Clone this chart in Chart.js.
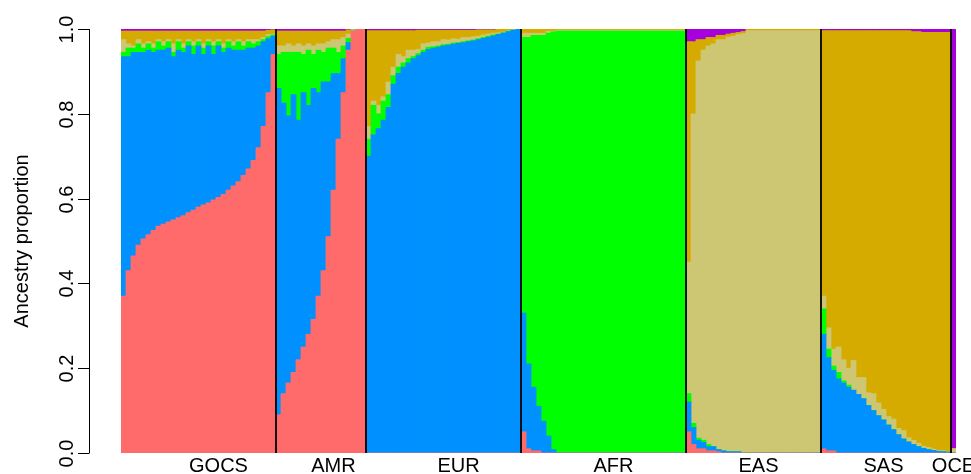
<!DOCTYPE html>
<html>
<head>
<meta charset="utf-8">
<script src="https://cdn.jsdelivr.net/npm/chart.js@4.4.1/dist/chart.umd.min.js"></script>
<style>
  html, body { margin: 0; padding: 0; background: #ffffff; }
  #wrap { width: 971px; height: 474px; }
</style>
</head>
<body>
<div id="wrap"><canvas id="c" width="971" height="474"></canvas></div>
<script>
// ---- data (each bar = a block of individuals) ----
const groups = ['GOCS', 'AMR', 'EUR', 'AFR', 'EAS', 'SAS', 'OCE'];
const groupSizes = [31, 18, 31, 33, 27, 26, 1];
const componentNames = ['K1', 'K2', 'K3', 'K4', 'K5', 'K6'];
const yTicks = [0, 0.2, 0.4, 0.6, 0.8, 1.0];
const yTickLabels = ['0.0', '0.2', '0.4', '0.6', '0.8', '1.0'];
const yTitle = 'Ancestry proportion';

const red = [
  /* GOCS */ .37,.43,.465,.49,.505,.515,.525,.535,.54,.545, .55,.555,.56,.567,.573,.58,.585,.59,.597,.603, .61,.62,.63,.64,.655,.67,.69,.72,.77,.85, .94,
  /* AMR  */ .09,.14,.165,.19,.22,.25,.28,.315,.37,.43, .51,.62,.74,.85,.95,.995,1,1,
  /* EUR  */ 0,0,0,0,0,0,0,0,0,0, 0,0,0,0,0,0,0,0,0,0, 0,0,0,0,0,0,0,0,0,0, 0,
  /* AFR  */ .05,.01,.005,.005,0,0,0,0,0,0, 0,0,0,0,0,0,0,0,0,0, 0,0,0,0,0,0,0,0,0,0, 0,0,0,
  /* EAS  */ .05,.02,.01,.01,.005,.005,.003,0,0,0, 0,0,0,0,0,0,0,0,0,0, 0,0,0,0,0,0,0,
  /* SAS  */ .01,.005,.005,0,0,0,0,0,0,0, 0,0,0,0,0,0,0,0,0,0, 0,0,0,0,0,0,
  /* OCE  */ 0
];
const blue = [
  /* GOCS */ .565,.505,.48,.455,.44,.435,.42,.415,.41,.41, .385,.395,.385,.393,.367,.38,.355,.37,.343,.357, .335,.335,.32,.31,.295,.285,.265,.24,.20,.127, .043,
  /* AMR  */ .77,.685,.63,.655,.565,.60,.54,.545,.48,.445, .365,.275,.155,.08,.018,0,0,0,
  /* EUR  */ .70,.75,.765,.785,.815,.87,.895,.91,.92,.93, .937,.945,.952,.955,.957,.96,.962,.964,.966,.968, .97,.972,.975,.978,.981,.984,.987,.99,.994,.997, 1,
  /* AFR  */ .28,.20,.15,.105,.075,.04,.008,0,0,0, 0,0,0,0,0,0,0,0,0,0, 0,0,0,0,0,0,0,0,0,0, 0,0,0,
  /* EAS  */ .07,.04,.02,.015,.01,.01,.005,.005,.003,.003, .003,0,0,0,0,0,0,0,0,0, 0,0,0,0,0,0,0,
  /* SAS  */ .27,.22,.19,.175,.165,.155,.148,.138,.128,.112, .10,.088,.078,.066,.055,.043,.033,.026,.02,.015, .011,.008,.006,.004,.003,.002,
  /* OCE  */ 0
];
const green = [
  /* GOCS */ .01,.02,.01,.02,.01,.015,.01,.02,.01,.015, .01,.02,.01,.01,.02,.01,.015,.01,.02,.01, .01,.015,.01,.02,.01,.015,.01,.01,.005,.005, .003,
  /* AMR  */ .08,.12,.15,.10,.16,.09,.13,.08,.10,.07, .08,.06,.05,.03,.01,0,0,0,
  /* EUR  */ .04,.07,.035,.045,.03,.02,.015,.01,.01,.005, .005,.005,.005,.003,.003,.003,.002,.003,.002,.002, .002,.002,.002,.002,.002,.002,.001,.001,.001,0, 0,
  /* AFR  */ .65,.77,.83,.875,.91,.95,.985,.995,.995,.995, .995,.995,.995,.995,.995,.995,.995,.995,.995,.995, .995,.995,.995,.995,.995,.995,.995,.995,.995,.995, .995,.995,.995,
  /* EAS  */ .02,.01,.005,.005,.005,0,0,0,0,0, 0,0,0,0,0,0,0,0,0,0, 0,0,0,0,0,0,0,
  /* SAS  */ .06,.02,.01,.015,.005,.005,0,0,0,0, 0,0,0,0,0,0,0,0,0,0, 0,0,0,0,0,0,
  /* OCE  */ 0
];
const khaki = [
  /* GOCS */ .03,.01,.005,.01,.01,.005,.01,.005,.01,.005, .02,.005,.01,.005,.01,.005,.01,.005,.01,.005, .01,.005,.01,.005,.01,.005,.01,.005,.005,.005, .002,
  /* AMR  */ .02,.015,.02,.015,.02,.02,.015,.02,.015,.02, .015,.02,.03,.02,.01,.003,0,0,
  /* EUR  */ .03,.01,.02,.01,.03,.02,.03,.015,.02,.015, .01,.015,.01,.012,.01,.012,.01,.01,.008,.01, .008,.008,.006,.006,.005,.004,.003,.002,.001,.001, 0,
  /* AFR  */ .01,.01,.005,.005,.005,.005,.002,.002,.002,.002, .002,.002,.002,.002,.002,.002,.002,.002,.002,.002, .002,.002,.002,.002,.002,.002,.002,.002,.002,.002, .002,.002,.002,
  /* EAS  */ .31,.73,.89,.92,.94,.95,.967,.97,.978,.98, .984,.989,.996,.996,.996,.996,.996,.996,.996,.996, .996,.996,.996,.996,.996,.996,.996,
  /* SAS  */ .03,.05,.04,.06,.05,.04,.07,.04,.05,.03, .04,.03,.025,.02,.025,.015,.02,.01,.01,.008, .005,.005,.003,.002,.002,.001,
  /* OCE  */ .01
];
const gold = [
  /* GOCS */ .02,.03,.035,.02,.03,.025,.03,.02,.025,.02, .03,.02,.03,.02,.025,.02,.03,.02,.025,.02, .03,.02,.025,.02,.025,.02,.02,.02,.015,.01, .01,
  /* AMR  */ .035,.035,.03,.035,.03,.035,.03,.035,.03,.03, .025,.02,.02,.015,.01,.002,0,0,
  /* EUR  */ .226,.166,.176,.156,.121,.086,.056,.061,.046,.046, .045,.032,.03,.027,.027,.022,.023,.020,.021,.017, .017,.015,.015,.012,.010,.008,.008,.006,.003,.002, 0,
  /* AFR  */ .01,.01,.01,.01,.01,.005,.005,.003,.003,.003, .003,.003,.003,.003,.003,.003,.003,.003,.003,.003, .003,.003,.003,.003,.003,.003,.003,.003,.003,.003, .003,.003,.003,
  /* EAS  */ .52,.17,.05,.025,.02,.015,.01,.01,.007,.007, .005,.005,.003,.003,.003,.003,.003,.003,.003,.003, .003,.003,.003,.003,.003,.003,.003,
  /* SAS  */ .626,.701,.751,.746,.776,.796,.778,.818,.818,.854, .856,.878,.893,.910,.916,.938,.943,.960,.964,.971, .976,.979,.983,.986,.987,.989,
  /* OCE  */ 0
];
const purple = [
  /* GOCS */ .005,.005,.005,.005,.005,.005,.005,.005,.005,.005, .005,.005,.005,.005,.005,.005,.005,.005,.005,.005, .005,.005,.005,.005,.005,.005,.005,.005,.005,.003, .002,
  /* AMR  */ .005,.005,.005,.005,.005,.005,.005,.005,.005,.005, .005,.005,.005,.005,.002,0,0,0,
  /* EUR  */ .004,.004,.004,.004,.004,.004,.004,.004,.004,.004, .003,.003,.003,.003,.003,.003,.003,.003,.003,.003, .003,.003,.002,.002,.002,.002,.001,.001,.001,0, 0,
  /* AFR  */ 0,0,0,0,0,0,0,0,0,0, 0,0,0,0,0,0,0,0,0,0, 0,0,0,0,0,0,0,0,0,0, 0,0,0,
  /* EAS  */ .03,.03,.025,.025,.02,.02,.015,.015,.012,.01, .008,.006,.001,.001,.001,.001,.001,.001,.001,.001, .001,.001,.001,.001,.001,.001,.001,
  /* SAS  */ .004,.004,.004,.004,.004,.004,.004,.004,.004,.004, .004,.004,.004,.004,.004,.004,.004,.004,.006,.006, .008,.008,.008,.008,.008,.008,
  /* OCE  */ .99
];

// ---- styling / layout ----
const seriesColors = ['#FF6A6A', '#0091FF', '#00FF00', '#CDC673', '#D5AB00', '#A500DD'];
const labelAt = [19, 42, 67, 98, 127, 152, 166];   // bar under which each group name sits
const FONT = '20px "Liberation Sans", Arial, Helvetica, sans-serif';

// ---- build category labels ----
const labels = [];
groups.forEach((g, gi) => { for (let i = 0; i < groupSizes[gi]; i++) labels.push(g + ' ' + (i + 1)); });
const seriesData = [red, blue, green, khaki, gold, purple];
seriesData.forEach((s, i) => { if (s.length !== labels.length) throw new Error('series ' + i + ' has ' + s.length + ' values, expected ' + labels.length); });

const boundaries = [];
groupSizes.reduce((acc, n, i) => { acc += n; if (i < groupSizes.length - 1) boundaries.push(acc); return acc; }, 0);

const decorPlugin = {
  id: 'decor',
  afterDatasetsDraw(chart) {
    const ctx = chart.ctx, xs = chart.scales.x, ys = chart.scales.y;
    const step = xs.getPixelForValue(1) - xs.getPixelForValue(0);
    const yTop = ys.getPixelForValue(1), yBot = ys.getPixelForValue(0);
    ctx.save();
    // group separators
    ctx.strokeStyle = '#000000';
    ctx.lineWidth = 1.8;
    boundaries.forEach(b => {
      const x = xs.getPixelForValue(b) - step / 2;
      ctx.beginPath(); ctx.moveTo(x, yTop); ctx.lineTo(x, yBot); ctx.stroke();
    });
    // y axis (detached, as in base R)
    const ax = chart.chartArea.left - 32;
    ctx.lineWidth = 1;
    ctx.beginPath(); ctx.moveTo(ax + 0.5, yTop); ctx.lineTo(ax + 0.5, yBot); ctx.stroke();
    ctx.fillStyle = '#000000';
    ctx.font = FONT;
    yTicks.forEach((v, i) => {
      const y = Math.round(ys.getPixelForValue(v)) + 0.5;
      ctx.beginPath(); ctx.moveTo(ax - 11, y); ctx.lineTo(ax + 0.5, y); ctx.stroke();
      ctx.save();
      ctx.translate(ax - 22, y);
      ctx.rotate(-Math.PI / 2);
      ctx.textAlign = 'center'; ctx.textBaseline = 'middle';
      ctx.fillText(yTickLabels[i], 0, 0);
      ctx.restore();
    });
    // y title
    ctx.save();
    ctx.translate(22, (yTop + yBot) / 2);
    ctx.rotate(-Math.PI / 2);
    ctx.textAlign = 'center'; ctx.textBaseline = 'middle';
    ctx.fillText(yTitle, 0, 0);
    ctx.restore();
    // group names
    ctx.textAlign = 'center'; ctx.textBaseline = 'alphabetic';
    groups.forEach((g, gi) => {
      ctx.fillText(g, xs.getPixelForValue(labelAt[gi]), yBot + 19);
    });
    ctx.restore();
  }
};

new Chart(document.getElementById('c'), {
  type: 'bar',
  data: {
    labels: labels,
    datasets: seriesData.map((d, i) => ({
      label: componentNames[i],
      data: d,
      backgroundColor: seriesColors[i],
      borderWidth: 0,
      barPercentage: 1,
      categoryPercentage: 1,
      inflateAmount: 0.4
    }))
  },
  options: {
    responsive: false,
    animation: false,
    devicePixelRatio: 1,
    layout: { padding: { left: 121, right: 15, top: 29, bottom: 21 } },
    plugins: { legend: { display: false }, tooltip: { enabled: false } },
    scales: {
      x: { stacked: true, display: false },
      y: { stacked: true, display: false, min: 0, max: 1 }
    }
  },
  plugins: [decorPlugin]
});
</script>
</body>
</html>
